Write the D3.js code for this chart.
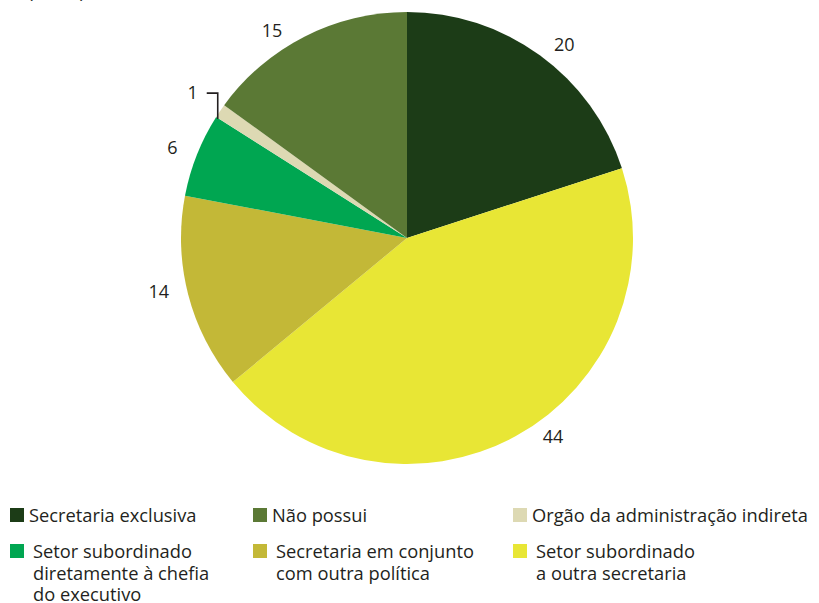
<!DOCTYPE html>
<html>
<head>
<meta charset="utf-8">
<script src="https://cdn.jsdelivr.net/npm/d3@7"></script>
<style>
  html, body { margin: 0; padding: 0; background: #ffffff; }
  svg { display: block; }
  text { font-family: "Open Sans", "Noto Sans", sans-serif; fill: #231f20; }
</style>
</head>
<body>
<svg id="chart" width="819" height="603"></svg>
<script>
// Forma de organização da gestão (Em %)
const categories = [
  "Secretaria exclusiva",
  "Setor subordinado a outra secretaria",
  "Secretaria em conjunto com outra política",
  "Setor subordinado diretamente à chefia do executivo",
  "Orgão da administração indireta",
  "Não possui"
];
const values = [20, 44, 14, 6, 1, 15];
const colors = ["#1c3c17", "#e8e635", "#c3b837", "#00a651", "#ddd9b3", "#5b7935"];

// Legend entries, in display order, with their line breaks
const legendOrder = [
  { cat: "Secretaria exclusiva", lines: ["Secretaria exclusiva"] },
  { cat: "Não possui", lines: ["Não possui"] },
  { cat: "Orgão da administração indireta", lines: ["Orgão da administração indireta"] },
  { cat: "Setor subordinado diretamente à chefia do executivo", lines: ["Setor subordinado", "diretamente à chefia", "do executivo"] },
  { cat: "Secretaria em conjunto com outra política", lines: ["Secretaria em conjunto", "com outra política"] },
  { cat: "Setor subordinado a outra secretaria", lines: ["Setor subordinado", "a outra secretaria"] }
];

const svg = d3.select("#chart");
const color = d3.scaleOrdinal().domain(categories).range(colors);

// Unit caption at the top-left, mostly above the frame
svg.append("text")
  .attr("x", 28).attr("y", -2)
  .style("font-size", "18px")
  .text("(Em %)");

const cx = 407, cy = 238, radius = 226;
const data = categories.map((c, i) => ({ cat: c, value: values[i] }));

const pie = d3.pie().value(d => d.value).sort(null);
const arcs = pie(data);
const arc = d3.arc().innerRadius(0).outerRadius(radius);
const labelArc = d3.arc().innerRadius(249).outerRadius(249);

// Small hand nudges so labels sit clear of the rim
const labelNudge = {
  "Secretaria exclusiva": [11, 7],
  "Setor subordinado a outra secretaria": [26, -20],
  "Secretaria em conjunto com outra política": [-7, -9],
  "Setor subordinado diretamente à chefia do executivo": [-3, 1],
  "Não possui": [-22, 14]
};

const g = svg.append("g").attr("transform", `translate(${cx},${cy})`);

g.selectAll("path.slice")
  .data(arcs)
  .join("path")
  .attr("class", "slice")
  .attr("d", arc)
  .attr("fill", d => color(d.data.cat));

// Value labels; the tiny slice gets a leader line
arcs.forEach(d => {
  const mid = (d.startAngle + d.endAngle) / 2;
  if (d.data.value < 3) {
    const edge = [Math.sin(mid) * (radius - 2), -Math.cos(mid) * (radius - 2)];
    const lx = edge[0] - 4;
    const elbowY = edge[1] - 19;
    g.append("path")
      .attr("d", `M${lx},${edge[1] + 7} L${lx},${elbowY} L${lx - 11},${elbowY}`)
      .attr("fill", "none")
      .attr("stroke", "#231f20")
      .attr("stroke-width", 1.6);
    g.append("text")
      .attr("x", lx - 25)
      .attr("y", elbowY - 1)
      .attr("text-anchor", "middle")
      .attr("dominant-baseline", "central")
      .style("font-size", "18px")
      .text(d.data.value);
  } else {
    const [x, y] = labelArc.centroid(d);
    const [nx, ny] = labelNudge[d.data.cat] || [0, 0];
    g.append("text")
      .attr("x", x + nx).attr("y", y + ny)
      .attr("text-anchor", "middle")
      .attr("dominant-baseline", "central")
      .style("font-size", "18px")
      .text(d.data.value);
  }
});

// Legend: three columns, two rows
const colX = [10, 253, 513];
const rowY = [508, 544];
const lineH = 21.5;
legendOrder.forEach((item, i) => {
  const col = i % 3, row = Math.floor(i / 3);
  const lg = svg.append("g").attr("transform", `translate(${colX[col]},${rowY[row]})`);
  lg.append("rect")
    .attr("width", 14).attr("height", 14)
    .attr("fill", color(item.cat));
  const tx = row === 0 ? 19 : 23;
  item.lines.forEach((ln, k) => {
    lg.append("text")
      .attr("x", tx)
      .attr("y", 14 + k * lineH)
      .style("font-size", "18.3px")
      .text(ln);
  });
});
</script>
</body>
</html>
